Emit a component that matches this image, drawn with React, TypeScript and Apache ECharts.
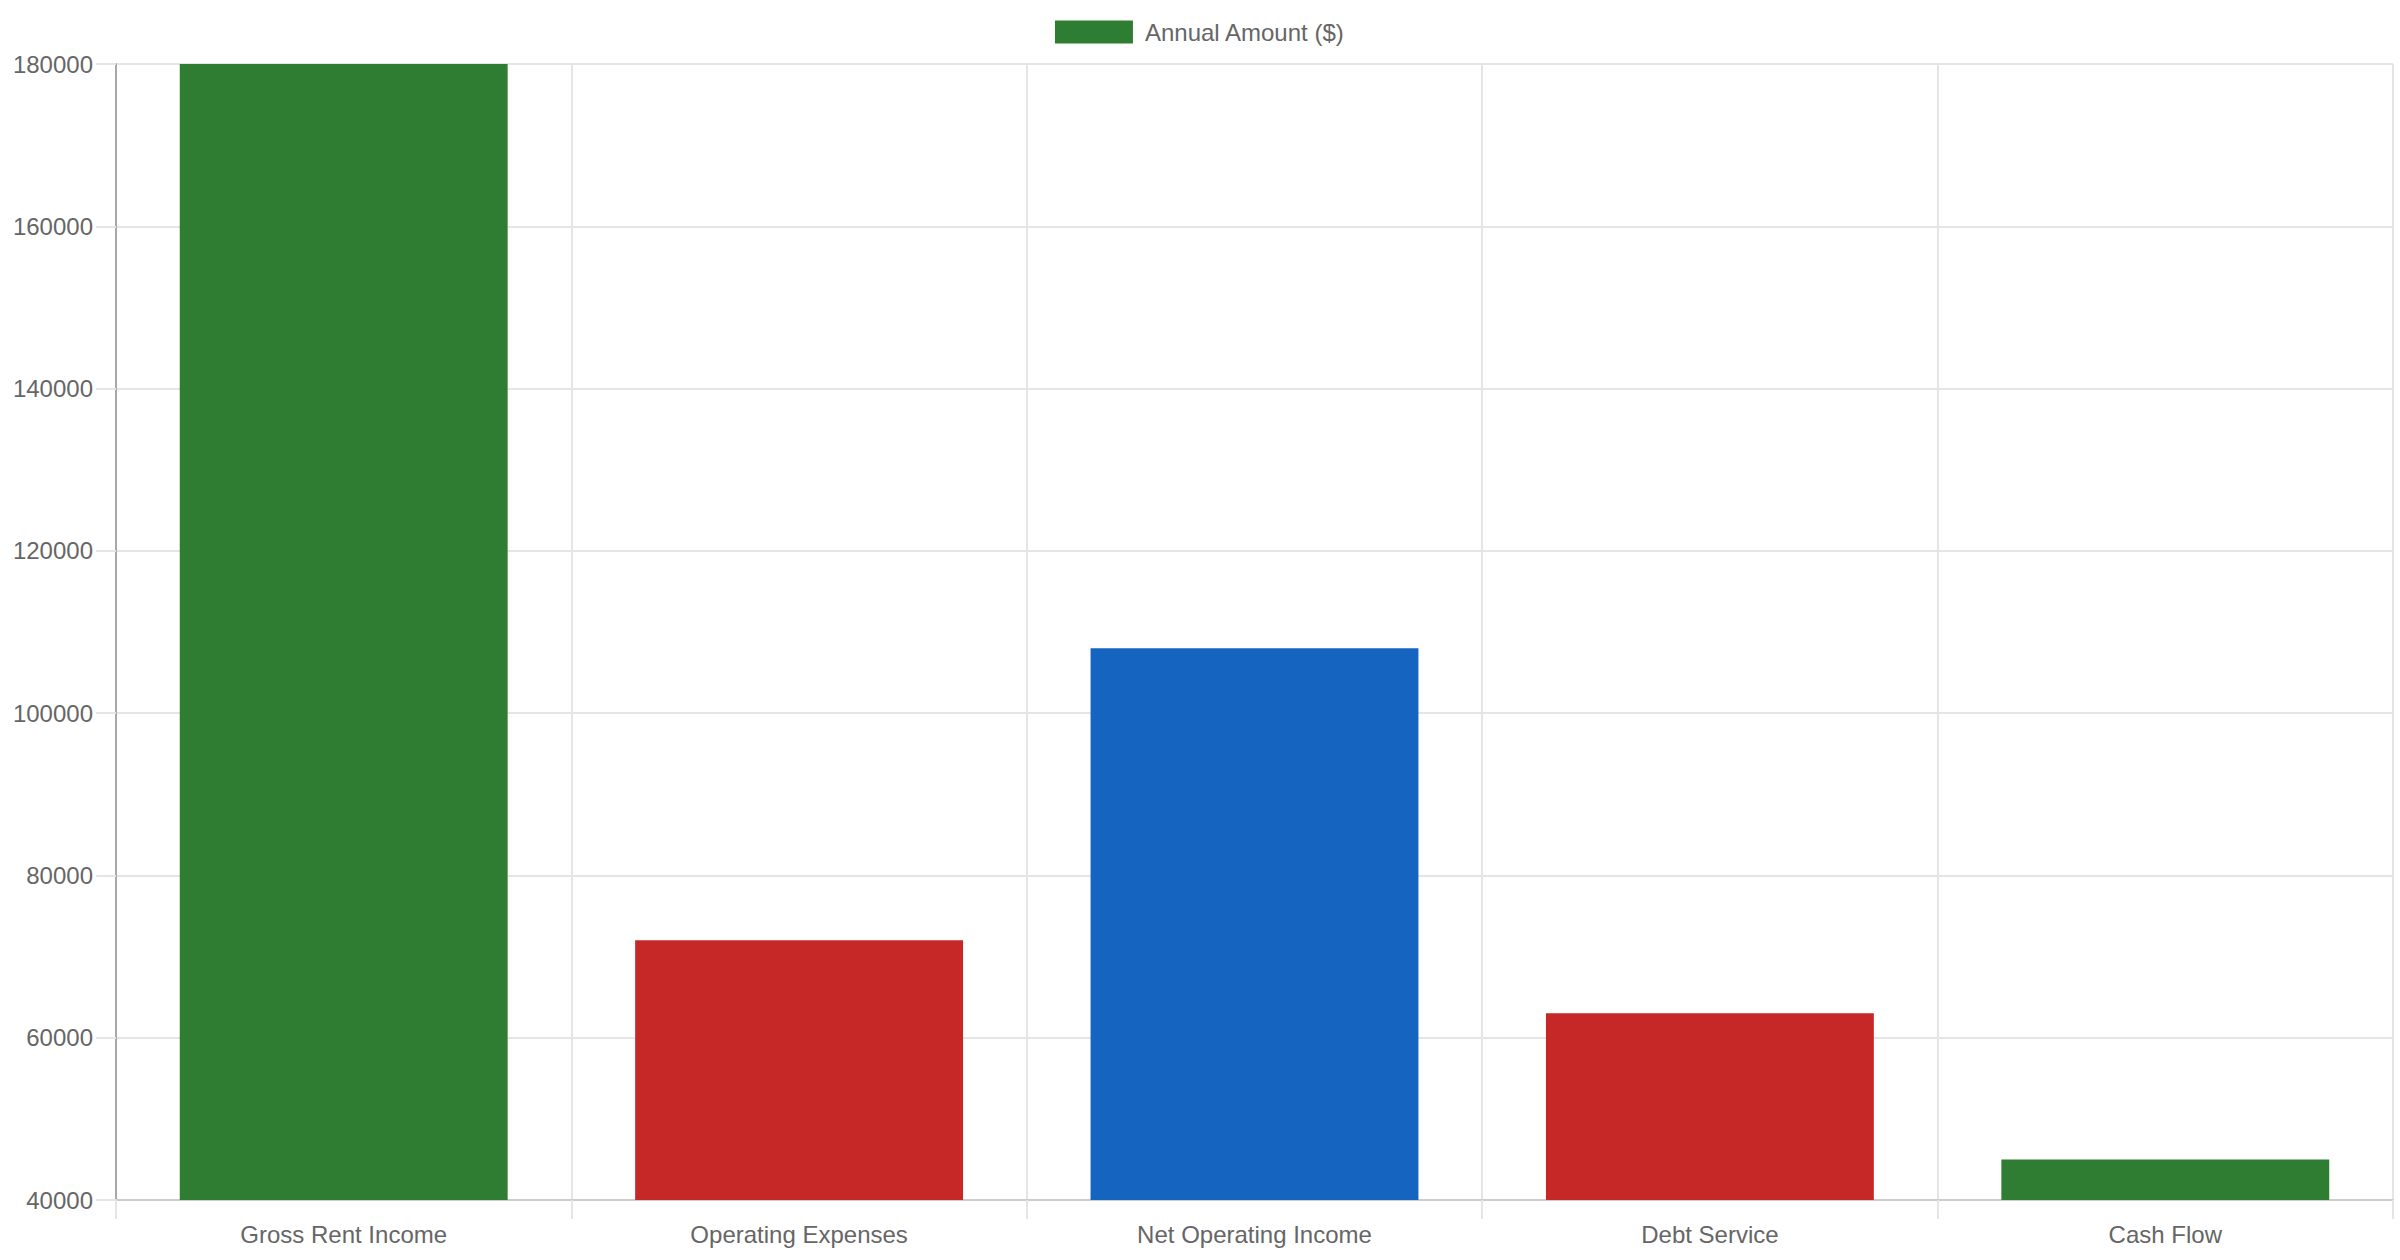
import React, { useEffect, useRef } from "react";
import * as echarts from "echarts";

const categories = ["Gross Rent Income", "Operating Expenses", "Net Operating Income", "Debt Service", "Cash Flow"];
const amounts = [180000, 72000, 108000, 63000, 45000];
const barColors = ["#2e7d32", "#c62828", "#1565c0", "#c62828", "#2e7d32"];
const seriesName = "Annual Amount ($)";
const yMin = 40000;
const yMax = 180000;
const yStep = 20000;

const FONT = "'Liberation Sans', Arial, Helvetica, sans-serif";

export default function App() {
  const ref = useRef<HTMLDivElement>(null);
  useEffect(() => {
    if (!ref.current) return;
    const chart = echarts.init(ref.current, undefined, { renderer: "svg" });
    chart.setOption({
      animation: false,
      backgroundColor: "#ffffff",
      textStyle: { fontFamily: FONT },
      legend: {
        show: true,
        left: "center",
        top: 20,
        itemWidth: 78,
        itemHeight: 23,
        icon: "rect",
        padding: 0,
        textStyle: { color: "#666666", fontSize: 24, lineHeight: 23, fontFamily: FONT, padding: [0, 0, 0, 7] },
        data: [seriesName],
      },
      grid: { left: 116, right: 7, top: 64, bottom: 60, containLabel: false },
      xAxis: {
        type: "category",
        data: categories,
        boundaryGap: true,
        axisLine: { show: true, lineStyle: { color: "#cccccc", width: 2 } },
        axisTick: { show: true, length: 19, lineStyle: { color: "#e5e5e5", width: 2 } },
        splitLine: { show: true, lineStyle: { color: "#e5e5e5", width: 2 } },
        axisLabel: { color: "#666666", fontSize: 24, fontFamily: FONT, margin: 22, interval: 0 },
      },
      yAxis: {
        type: "value",
        min: yMin,
        max: yMax,
        interval: yStep,
        axisLine: { show: true, lineStyle: { color: "#a8a8a8", width: 2 } },
        axisTick: { show: true, length: 20, lineStyle: { color: "#e5e5e5", width: 2 } },
        splitLine: { show: true, lineStyle: { color: "#e5e5e5", width: 2 } },
        axisLabel: {
          color: "#666666",
          fontSize: 24,
          fontFamily: FONT,
          margin: 23,
          formatter: (v: number) => String(v),
        },
      },
      series: [
        {
          name: seriesName,
          type: "bar",
          barWidth: "72%",
          itemStyle: { color: barColors[0] },
          data: amounts.map((v, i) => ({ value: v, itemStyle: { color: barColors[i] } })),
        },
      ],
    });
    return () => chart.dispose();
  }, []);
  return (
    <div
      ref={ref}
      style={{ position: "fixed", left: 0, top: 0, width: 2400, height: 1260, background: "#fff" }}
    />
  );
}
